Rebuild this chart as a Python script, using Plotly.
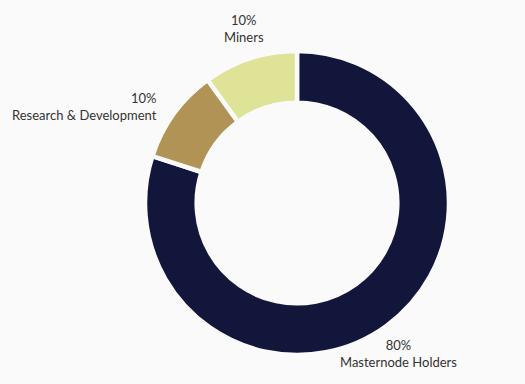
import math
import plotly.graph_objects as go

labels = ["Masternode Holders", "Research & Development", "Miners"]
values = [80, 10, 10]
colors = ["#12163b", "#b09355", "#dee397"]

W, H = 525, 384
cx, cy, R = 297, 203, 152   # pie centre / radius in px (outer 2px hidden by gap stroke)
label_r = 172

fig = go.Figure(go.Pie(
    labels=labels,
    values=values,
    hole=0.66,
    sort=False,
    direction="clockwise",
    rotation=0,
    marker=dict(colors=colors, line=dict(color="#fafafa", width=4.5)),
    textinfo="none",
    showlegend=False,
    hoverinfo="skip",
    domain=dict(x=[(cx - R) / W, (cx + R) / W], y=[1 - (cy + R) / H, 1 - (cy - R) / H]),
))

font = dict(family="Lato, Open Sans, sans-serif", size=13, color="#333333")
total = sum(values)
cum = 0
for lab, v in zip(labels, values):
    mid = (cum + v / 2) / total * 2 * math.pi
    cum += v
    s, c = math.sin(mid), math.cos(mid)
    ax = cx + label_r * s
    ay = cy - label_r * c
    if abs(s) < 0.7:
        xanchor, align = "center", "center"
    else:
        xanchor, align = ("left", "left") if s > 0 else ("right", "right")
    if c > 0.7:
        yy = ay - 11
    elif c < -0.7:
        yy = ay + 11
    else:
        yy = ay + 5
    pct = f"{round(v / total * 100)}%"
    fig.add_annotation(
        x=ax / W, y=1 - yy / H, xref="paper", yref="paper",
        text=f"{pct}<br>{lab}", showarrow=False, xanchor=xanchor, yanchor="middle",
        align=align, font=font, borderpad=0,
    )

fig.update_layout(
    width=W, height=H,
    margin=dict(l=0, r=0, t=0, b=0),
    paper_bgcolor="#fafafa",
    plot_bgcolor="#fafafa",
)

fig.write_html(
    "out.html",
    config={"displayModeBar": False},
    post_script="document.body.style.margin='0';document.body.style.background='#fafafa';",
)
